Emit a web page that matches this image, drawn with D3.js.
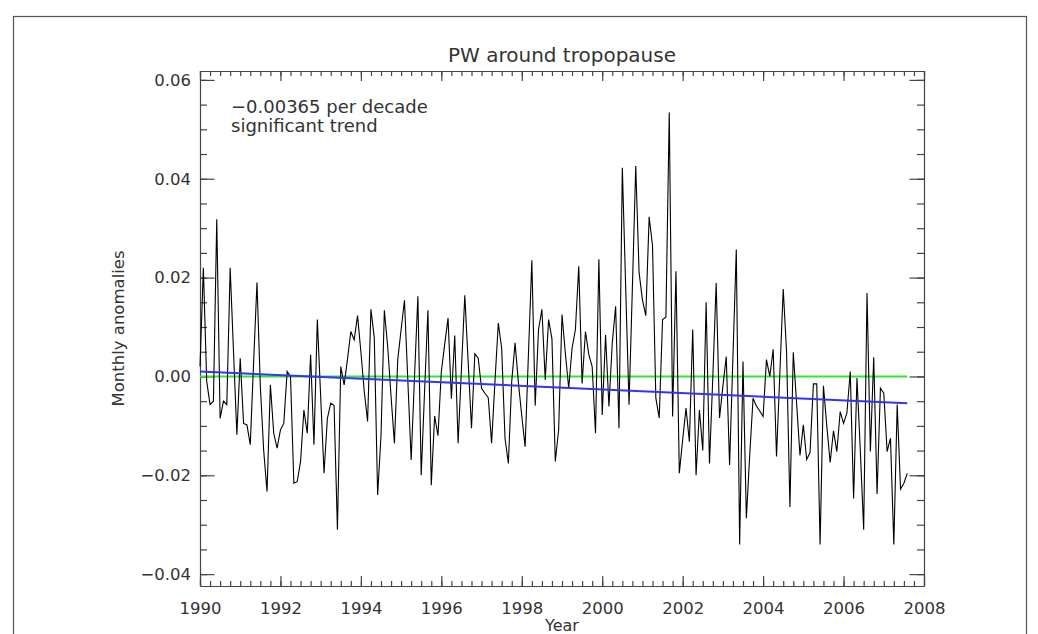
<!DOCTYPE html>
<html>
<head>
<meta charset="utf-8">
<script src="https://cdn.jsdelivr.net/npm/d3@7"></script>
<style>
  body { margin: 0; background: #fff; }
  svg text { font-family: "DejaVu Sans", sans-serif; fill: #333; }
</style>
</head>
<body>
<div id="chart"></div>
<script>
// monthly anomalies, Jan 1990 .. Aug 2007
const startYear = 1990;
const anomalies = [
  0.002, 0.022, -0.001, -0.0057, -0.005, 0.0318, -0.0085, -0.005, -0.0057, 0.022,
  0.005, -0.0118, 0.0037, -0.0095, -0.0098, -0.0138, 0.003, 0.019, -0.002, -0.015,
  -0.0233, -0.0017, -0.0115, -0.0145, -0.0108, -0.0095, 0.001, 0.0, -0.0216, -0.0213,
  -0.0172, -0.0068, -0.0115, 0.0044, -0.0138, 0.0115, -0.004, -0.0196, -0.0085, -0.0054,
  -0.0059, -0.031, 0.002, -0.0017, 0.0035, 0.0091, 0.0074, 0.0123, 0.005, -0.003,
  -0.0091, 0.0136, 0.0078, -0.024, -0.012, 0.0134, 0.006, -0.004, -0.0135, 0.0034,
  0.0095, 0.0154, -0.0007, -0.0169, 0.0, 0.0162, -0.02, -0.003, 0.0134, -0.022,
  -0.008, -0.012, 0.001, 0.0065, 0.0118, -0.0045, 0.0083, -0.0135, 0.0015, 0.0164,
  0.003, -0.0105, 0.0046, 0.0037, -0.0024, -0.0034, -0.0043, -0.0135, -0.001, 0.0108,
  0.0057, -0.0125, -0.0176, -0.001, 0.0068, -0.0013, -0.008, -0.0142, 0.0047, 0.0235,
  -0.0059, 0.0095, 0.0136, -0.0007, 0.0115, 0.0076, -0.0172, -0.0108, 0.0125, 0.0047,
  -0.0024, 0.0057, 0.0095, 0.0223, -0.0014, 0.0091, 0.0044, 0.002, -0.0115, 0.0237,
  -0.0078, 0.0084, -0.0061, 0.0068, 0.0142, -0.0105, 0.0422, 0.018, -0.0057, 0.018,
  0.0426, 0.021, 0.0155, 0.0123, 0.0323, 0.0265, -0.0044, -0.0084, 0.0115, 0.012,
  0.0534, -0.0081, 0.0213, -0.0196, -0.0128, -0.0064, -0.0132, 0.0095, -0.02, -0.0068,
  -0.015, 0.015, -0.0176, 0.0, 0.0189, -0.0084, -0.002, 0.004, -0.0179, 0.004,
  0.0257, -0.034, 0.003, -0.0287, -0.016, -0.0044, -0.006, -0.007, -0.0081, 0.0034,
  0.0, 0.0055, -0.0162, 0.0007, 0.0177, 0.005, -0.0264, 0.0049, -0.0055, -0.016,
  -0.0098, -0.0168, -0.0154, -0.0015, -0.0015, -0.034, -0.0019, -0.01, -0.0174, -0.011,
  -0.0152, -0.0071, -0.0095, -0.0074, 0.001, -0.0247, -0.0003, -0.015, -0.031, 0.0169,
  -0.0152, 0.0039, -0.0238, -0.0024, -0.0034, -0.0152, -0.0125, -0.034, -0.0057, -0.0228,
  -0.0216, -0.0196
];
// fitted trend (ends) and zero reference
const trendValues = [0.0010, -0.0054];
const zeroValues = [0, 0];

const title = "PW around tropopause";
const xLabel = "Year";
const yLabel = "Monthly anomalies";
const noteLines = ["\u22120.00365 per decade", "significant trend"];
const xMajorTicks = [1990, 1992, 1994, 1996, 1998, 2000, 2002, 2004, 2006, 2008];
const yMajorTicks = [-0.04, -0.02, 0.00, 0.02, 0.04, 0.06];

const width = 1038, height = 634;
const plot = { left: 200, right: 924, top: 71, bottom: 586 };
const axisColor = "#444";

const series = anomalies.map((v, i) => ({ t: startYear + i / 12, v: v }));
const tEnd = series[series.length - 1].t;

const x = d3.scaleLinear().domain([1990, 2008]).range([plot.left, plot.right]);
const y = d3.scaleLinear().domain([-0.0424, 0.0618]).range([plot.bottom, plot.top]);

const svg = d3.select("#chart")
  .append("svg")
  .attr("width", width)
  .attr("height", height);

// outer frame of the page
svg.append("rect")
  .attr("x", 13.5)
  .attr("y", 16.5)
  .attr("width", 1013)
  .attr("height", 700)
  .attr("fill", "none")
  .attr("stroke", "#555")
  .attr("stroke-width", 1.2);

const xMinor = d3.range(1990, 2008.001, 0.25);
const yMinor = d3.range(-0.04, 0.0601, 0.005);

function styleAxis(g) {
  g.selectAll("path, line").attr("stroke", axisColor).attr("stroke-width", 1.2);
  g.selectAll("text")
    .attr("fill", "#333")
    .style("font-family", "DejaVu Sans, sans-serif")
    .style("font-size", "16.5px");
}

// bottom axis
svg.append("g")
  .attr("transform", `translate(0,${plot.bottom})`)
  .call(d3.axisBottom(x).tickValues(xMinor).tickSize(-5).tickSizeOuter(0).tickFormat(""))
  .call(styleAxis);
svg.append("g")
  .attr("transform", `translate(0,${plot.bottom})`)
  .call(d3.axisBottom(x).tickValues(xMajorTicks).tickSize(-10).tickSizeOuter(0)
    .tickPadding(16).tickFormat(d3.format("d")))
  .call(styleAxis)
  .call(g => g.select(".domain").remove());

// top axis
svg.append("g")
  .attr("transform", `translate(0,${plot.top})`)
  .call(d3.axisTop(x).tickValues(xMinor).tickSize(-5).tickSizeOuter(0).tickFormat(""))
  .call(styleAxis);
svg.append("g")
  .attr("transform", `translate(0,${plot.top})`)
  .call(d3.axisTop(x).tickValues(xMajorTicks).tickSize(-10).tickSizeOuter(0).tickFormat(""))
  .call(styleAxis)
  .call(g => g.select(".domain").remove());

// left axis
svg.append("g")
  .attr("transform", `translate(${plot.left},0)`)
  .call(d3.axisLeft(y).tickValues(yMinor).tickSize(-7).tickSizeOuter(0).tickFormat(""))
  .call(styleAxis);
svg.append("g")
  .attr("transform", `translate(${plot.left},0)`)
  .call(d3.axisLeft(y).tickValues(yMajorTicks).tickSize(-14.5).tickSizeOuter(0)
    .tickPadding(8).tickFormat(d3.format(".2f")))
  .call(styleAxis)
  .call(g => g.select(".domain").remove())
  .call(g => g.selectAll("text").attr("x", -9));

// right axis
svg.append("g")
  .attr("transform", `translate(${plot.right},0)`)
  .call(d3.axisRight(y).tickValues(yMinor).tickSize(-7).tickSizeOuter(0).tickFormat(""))
  .call(styleAxis);
svg.append("g")
  .attr("transform", `translate(${plot.right},0)`)
  .call(d3.axisRight(y).tickValues(yMajorTicks).tickSize(-14.5).tickSizeOuter(0).tickFormat(""))
  .call(styleAxis)
  .call(g => g.select(".domain").remove());

// zero line
svg.append("line")
  .attr("x1", x(1990)).attr("x2", x(tEnd))
  .attr("y1", y(zeroValues[0])).attr("y2", y(zeroValues[1]))
  .attr("stroke", "#33e633")
  .attr("stroke-width", 2);

// anomaly series
const line = d3.line().x(d => x(d.t)).y(d => y(d.v));
svg.append("path")
  .datum(series)
  .attr("d", line)
  .attr("fill", "none")
  .attr("stroke", "#000")
  .attr("stroke-width", 1.1)
  .attr("stroke-linejoin", "miter");

// linear trend
svg.append("line")
  .attr("x1", x(1990)).attr("x2", x(tEnd))
  .attr("y1", y(trendValues[0])).attr("y2", y(trendValues[1]))
  .attr("stroke", "#3333f0")
  .attr("stroke-width", 2);

// title and labels
svg.append("text")
  .attr("x", (plot.left + plot.right) / 2)
  .attr("y", 62)
  .attr("text-anchor", "middle")
  .style("font-size", "20px")
  .text(title);

svg.append("text")
  .attr("x", (plot.left + plot.right) / 2)
  .attr("y", 631)
  .attr("text-anchor", "middle")
  .style("font-size", "16px")
  .text(xLabel);

svg.append("text")
  .attr("transform", `translate(124,${(plot.top + plot.bottom) / 2}) rotate(-90)`)
  .attr("text-anchor", "middle")
  .style("font-size", "16.5px")
  .text(yLabel);

svg.selectAll(".note")
  .data(noteLines)
  .enter().append("text")
  .attr("class", "note")
  .attr("x", 231)
  .attr("y", (d, i) => 113 + i * 18.5)
  .style("font-size", "18px")
  .text(d => d);
</script>
</body>
</html>
